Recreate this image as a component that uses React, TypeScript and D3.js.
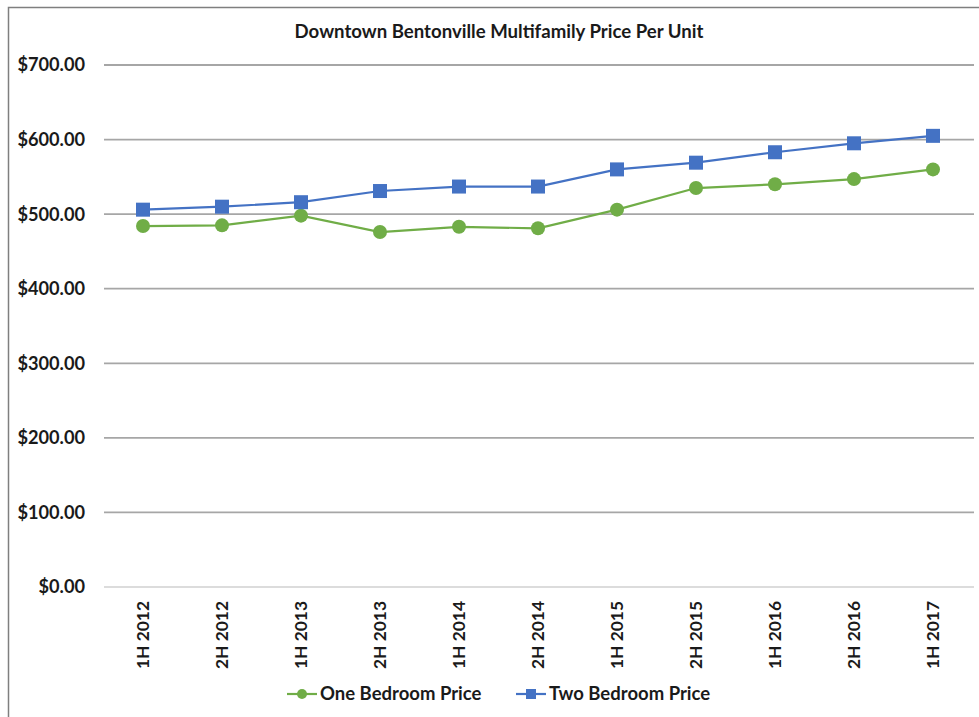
import React from "react";
import * as d3 from "d3";

const periods = [
  "1H 2012", "2H 2012", "1H 2013", "2H 2013", "1H 2014", "2H 2014",
  "1H 2015", "2H 2015", "1H 2016", "2H 2016", "1H 2017",
];
const oneBedroom = [484, 485, 498, 476, 483, 481, 506, 535, 540, 547, 560];
const twoBedroom = [506, 510, 516, 531, 537, 537, 560, 569, 583, 595, 605];
const yTicks = [0, 100, 200, 300, 400, 500, 600, 700];

const W = 979;
const H = 717;
const FONT = "Lato, 'Open Sans', sans-serif";
const GREEN = "#70ad47";
const BLUE = "#4472c4";

export default function App() {
  const x = d3.scalePoint<string>().domain(periods).range([143, 933]);
  const y = d3.scaleLinear().domain([0, 700]).range([587, 65]);
  const fmt = (v: number) => "$" + d3.format(",.2f")(v);

  const line = d3
    .line<number>()
    .x((_, i) => x(periods[i]) as number)
    .y((d) => y(d));

  return (
    <svg
      width={W}
      height={H}
      style={{ position: "absolute", left: 0, top: 0, background: "#fff" }}
      fontFamily={FONT}
    >
      <rect x={8.5} y={7.5} width={W + 20} height={H + 20} fill="#fff" stroke="#7f7f7f" strokeWidth={1.5} />

      <text x={499} y={38} textAnchor="middle" fontSize={18.6} fontWeight={700} fill="#1a1a1a">
        Downtown Bentonville Multifamily Price Per Unit
      </text>

      {yTicks.map((t) => (
        <g key={t}>
          <line
            x1={104}
            x2={974}
            y1={y(t)}
            y2={y(t)}
            stroke={t === 0 ? "#d0d0d0" : "#a6a6a6"}
            strokeWidth={t === 0 ? 1.5 : 1.8}
          />
          <text x={85} y={y(t)} dy="0.35em" textAnchor="end" fontSize={18.2} fontWeight={700} fill="#1a1a1a">
            {fmt(t)}
          </text>
        </g>
      ))}

      {periods.map((p) => (
        <text
          key={p}
          transform={`translate(${(x(p) as number) + 6},${601}) rotate(-90)`}
          textAnchor="end"
          fontSize={17.4}
          fontWeight={700}
          fill="#1a1a1a"
        >
          {p}
        </text>
      ))}

      <path d={line(oneBedroom) || ""} fill="none" stroke={GREEN} strokeWidth={2.2} />
      <path d={line(twoBedroom) || ""} fill="none" stroke={BLUE} strokeWidth={2.2} />

      {oneBedroom.map((v, i) => (
        <circle key={"o" + i} cx={x(periods[i]) as number} cy={y(v)} r={7} fill={GREEN} />
      ))}
      {twoBedroom.map((v, i) => (
        <rect
          key={"t" + i}
          x={(x(periods[i]) as number) - 7}
          y={y(v) - 7}
          width={14}
          height={14}
          fill={BLUE}
        />
      ))}

      {/* legend */}
      <g>
        <line x1={287} x2={317} y1={694} y2={694} stroke={GREEN} strokeWidth={2.2} />
        <circle cx={302} cy={694} r={5} fill={GREEN} />
        <text x={320} y={694} dy="0.35em" fontSize={18.5} fontWeight={700} fill="#1a1a1a">
          One Bedroom Price
        </text>
        <line x1={516} x2={546} y1={694} y2={694} stroke={BLUE} strokeWidth={2.2} />
        <rect x={526} y={689} width={10} height={10} fill={BLUE} />
        <text x={549} y={694} dy="0.35em" fontSize={18.5} fontWeight={700} fill="#1a1a1a">
          Two Bedroom Price
        </text>
      </g>
    </svg>
  );
}
